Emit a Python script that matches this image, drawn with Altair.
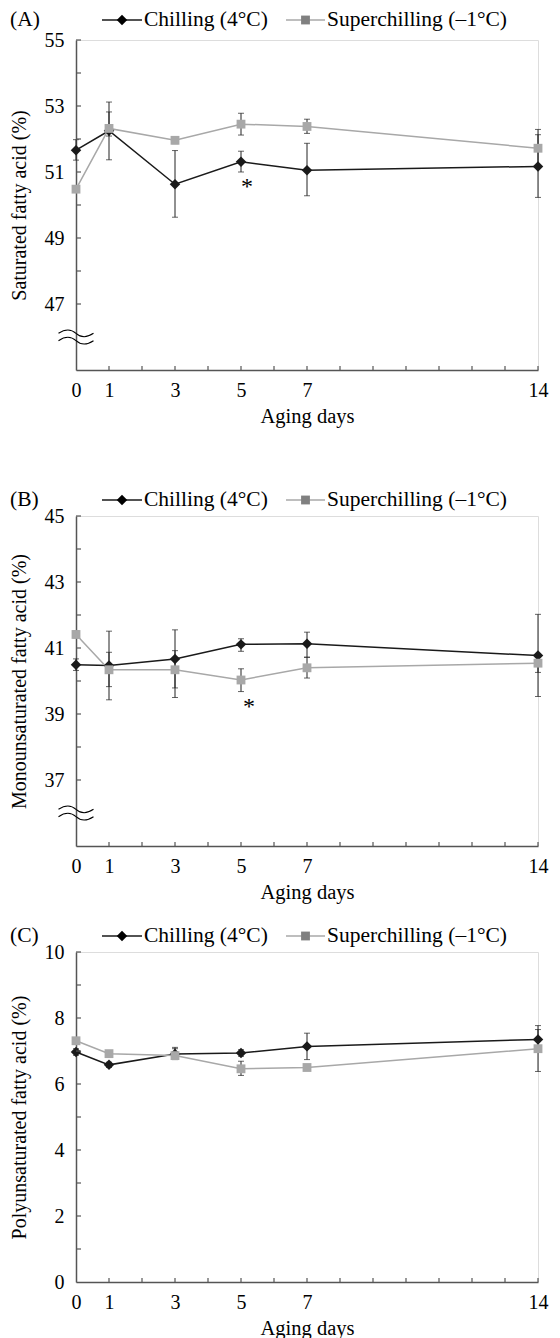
import altair as alt
import pandas as pd

# ---------------- data ----------------
days = [0, 1, 3, 5, 7, 14]
series = ["Chilling (4°C)", "Superchilling (–1°C)"]
x_labels = [0, 1, 3, 5, 7, 14]
x_ticks = list(range(1, 15))

# (A) Saturated fatty acid (%)
sfa_chill = [51.66, 52.25, 50.63, 51.31, 51.05, 51.17]
sfa_chill_lo = [51.36, 51.37, 49.63, 51.00, 50.28, 50.23]
sfa_chill_hi = [51.98, 53.12, 51.65, 51.63, 51.87, 52.13]
sfa_super = [50.48, 52.32, 51.96, 52.45, 52.38, 51.72]
sfa_super_lo = [50.38, 52.09, 51.86, 52.12, 52.17, 51.17]
sfa_super_hi = [50.58, 52.82, 52.06, 52.78, 52.60, 52.29]
sfa_labels = [47, 49, 51, 53, 55]
sfa_ticks = [47, 48, 49, 50, 51, 52, 53, 54, 55]

# (B) Monounsaturated fatty acid (%)
mufa_chill = [40.49, 40.47, 40.67, 41.11, 41.13, 40.77]
mufa_chill_lo = [40.32, 39.43, 39.79, 40.90, 40.72, 39.53]
mufa_chill_hi = [40.67, 41.51, 41.55, 41.28, 41.48, 42.02]
mufa_super = [41.41, 40.34, 40.34, 40.03, 40.40, 40.54]
mufa_super_lo = [41.31, 39.83, 39.50, 39.68, 40.09, 40.26]
mufa_super_hi = [41.51, 40.87, 40.92, 40.37, 40.72, 40.82]
mufa_labels = [37, 39, 41, 43, 45]
mufa_ticks = [37, 38, 39, 40, 41, 42, 43, 44, 45]

# (C) Polyunsaturated fatty acid (%)
pufa_chill = [6.97, 6.58, 6.91, 6.94, 7.14, 7.35]
pufa_chill_lo = [6.87, 6.50, 6.75, 6.84, 6.74, 7.05]
pufa_chill_hi = [7.07, 6.66, 7.07, 7.04, 7.54, 7.65]
pufa_super = [7.31, 6.92, 6.86, 6.46, 6.50, 7.07]
pufa_super_lo = [7.25, 6.86, 6.74, 6.26, 6.44, 6.38]
pufa_super_hi = [7.37, 6.98, 7.11, 6.69, 6.56, 7.77]
pufa_labels = [0, 2, 4, 6, 8, 10]
pufa_ticks = [1, 2, 3, 4, 5, 6, 7, 8, 9, 10]

# ---------------- style ----------------
FONT = "Liberation Serif"
W, H = 462, 330
AXIS_COLOR = "#555555"
BREAK_PATH = ("M-1,-0.21 C-0.6,-0.48 -0.3,-0.48 0,-0.21 C0.3,0.06 0.6,0.06 1,-0.21 "
              "M-1,0.21 C-0.6,-0.06 -0.3,-0.06 0,0.21 C0.3,0.48 0.6,0.48 1,0.21")


def one_row():
    return alt.Data(values=[{"k": 1}])


def panel(tag, ytitle, ydom, ylabels, yticks, brk,
          chill, chill_lo, chill_hi, sup, sup_lo, sup_hi, star, leg_y):
    df = pd.DataFrame({
        "day": days * 2,
        "val": chill + sup,
        "lo": chill_lo + sup_lo,
        "hi": chill_hi + sup_hi,
        "series": [series[0]] * len(days) + [series[1]] * len(days),
    })
    xs = alt.Scale(domain=[0, 14], nice=False, zero=False)
    ys = alt.Scale(domain=ydom, nice=False, zero=False)

    xaxis = alt.Axis(values=x_labels, ticks=False, labelPadding=10, titlePadding=6,
                     grid=False, domainColor=AXIS_COLOR, domainWidth=1.5,
                     labelFont=FONT, labelFontSize=20, labelColor="black",
                     labelFlush=False, labelOverlap=False,
                     titleFont=FONT, titleFontSize=20.5, titleFontWeight="normal",
                     titleColor="black")
    yaxis = alt.Axis(values=ylabels, ticks=False, labelPadding=12, titlePadding=15,
                     grid=False, domainColor=AXIS_COLOR, domainWidth=1.5,
                     labelFont=FONT, labelFontSize=20, labelColor="black",
                     labelFlush=False, labelOverlap=False,
                     titleFont=FONT, titleFontSize=20, titleFontWeight="normal",
                     titleColor="black")

    def X(f):
        return alt.X(f, scale=xs, axis=xaxis, title="Aging days")

    def Y(f):
        return alt.Y(f, scale=ys, axis=yaxis, title=ytitle)

    base = alt.Chart(df)
    col = alt.Color("series:N", scale=alt.Scale(domain=series, range=["#1a1a1a", "#a8a8a8"]),
                    legend=None)

    lines = base.mark_line(strokeWidth=1.5).encode(
        x=X("day:Q"), y=Y("val:Q"), color=col, detail="series:N",
    )
    err = base.mark_rule(color="#222222", strokeWidth=1).encode(
        x=X("day:Q"), y=Y("lo:Q"), y2="hi:Q",
    )
    cap_lo = base.mark_tick(orient="horizontal", size=6, thickness=1, color="#222222").encode(
        x=X("day:Q"), y=Y("lo:Q"),
    )
    cap_hi = base.mark_tick(orient="horizontal", size=6, thickness=1, color="#222222").encode(
        x=X("day:Q"), y=Y("hi:Q"),
    )
    pts = base.mark_point(filled=True, opacity=1, strokeWidth=0).encode(
        x=X("day:Q"), y=Y("val:Q"),
        shape=alt.Shape("series:N", scale=alt.Scale(domain=series, range=["diamond", "square"]),
                        legend=None),
        color=alt.Color("series:N", scale=alt.Scale(domain=series, range=["#000000", "#808080"]),
                        legend=None),
        size=alt.Size("series:N", scale=alt.Scale(domain=series, range=[110, 78]), legend=None),
    )

    # inward ticks
    ytk = alt.Chart(pd.DataFrame({"v": yticks})).mark_rule(color=AXIS_COLOR, strokeWidth=1.2).encode(
        y=Y("v:Q"), x=alt.value(0), x2=alt.value(5),
    )
    xtk = alt.Chart(pd.DataFrame({"d": x_ticks})).mark_rule(color=AXIS_COLOR, strokeWidth=1.2).encode(
        x=X("d:Q"), y=alt.value(H), y2=alt.value(H - 4),
    )

    layers = [lines, err, cap_lo, cap_hi, pts, ytk, xtk]

    if brk is not None:
        brk_layer = alt.Chart(pd.DataFrame({"b": [brk]})).mark_point(
            shape=BREAK_PATH, filled=False, size=1225, color="black", strokeWidth=1.1, opacity=1
        ).encode(y=Y("b:Q"), x=alt.value(0))
        layers.append(brk_layer)

    if star is not None:
        star_layer = alt.Chart(pd.DataFrame({"sd": [star[0]], "sv": [star[1]]})).mark_text(
            text="*", font=FONT, fontSize=24, fill="black", dx=star[2], dy=5, baseline="middle"
        ).encode(x=X("sd:Q"), y=Y("sv:Q"))
        layers.append(star_layer)

    # panel tag and legend
    txt = dict(font=FONT, fontSize=21.5, fill="black", baseline="middle", align="left")
    layers.append(alt.Chart(one_row()).mark_text(**txt).encode(
        x=alt.value(-66), y=alt.value(leg_y), text=alt.value(tag)))
    layers.append(alt.Chart(one_row()).mark_rule(color="#1a1a1a", strokeWidth=1.5).encode(
        x=alt.value(26), x2=alt.value(66), y=alt.value(leg_y)))
    layers.append(alt.Chart(one_row()).mark_point(shape="diamond", filled=True, size=110,
                                                   color="black", opacity=1).encode(
        x=alt.value(46), y=alt.value(leg_y)))
    layers.append(alt.Chart(one_row()).mark_text(**txt).encode(
        x=alt.value(68), y=alt.value(leg_y), text=alt.value(series[0])))
    layers.append(alt.Chart(one_row()).mark_rule(color="#a8a8a8", strokeWidth=1.5).encode(
        x=alt.value(210), x2=alt.value(249), y=alt.value(leg_y)))
    layers.append(alt.Chart(one_row()).mark_point(shape="square", filled=True, size=78,
                                                   color="#808080", opacity=1).encode(
        x=alt.value(229.5), y=alt.value(leg_y)))
    layers.append(alt.Chart(one_row()).mark_text(**txt).encode(
        x=alt.value(251), y=alt.value(leg_y), text=alt.value(series[1])))

    return alt.layer(*layers).properties(width=W, height=H)


pA = panel("(A)", "Saturated fatty acid (%)", [45, 55], sfa_labels, sfa_ticks, 46,
           sfa_chill, sfa_chill_lo, sfa_chill_hi, sfa_super, sfa_super_lo, sfa_super_hi,
           (5, 50.69, 6), -20)
pB = panel("(B)", "Monounsaturated fatty acid (%)", [35, 45], mufa_labels, mufa_ticks, 36,
           mufa_chill, mufa_chill_lo, mufa_chill_hi, mufa_super, mufa_super_lo, mufa_super_hi,
           (5, 39.35, 8), -16)
pC = panel("(C)", "Polyunsaturated fatty acid (%)", [0, 10], pufa_labels, pufa_ticks, None,
           pufa_chill, pufa_chill_lo, pufa_chill_hi, pufa_super, pufa_super_lo, pufa_super_hi,
           None, -16)

inner = alt.vconcat(pB, pC, spacing=21)
chart = alt.vconcat(pA, inner, spacing=61).properties(
    padding={"left": 0, "top": 0, "right": 0, "bottom": 0}
).configure_view(stroke=None).configure(background="white")

chart.save("out.html", embed_options={"renderer": "svg", "actions": False})
